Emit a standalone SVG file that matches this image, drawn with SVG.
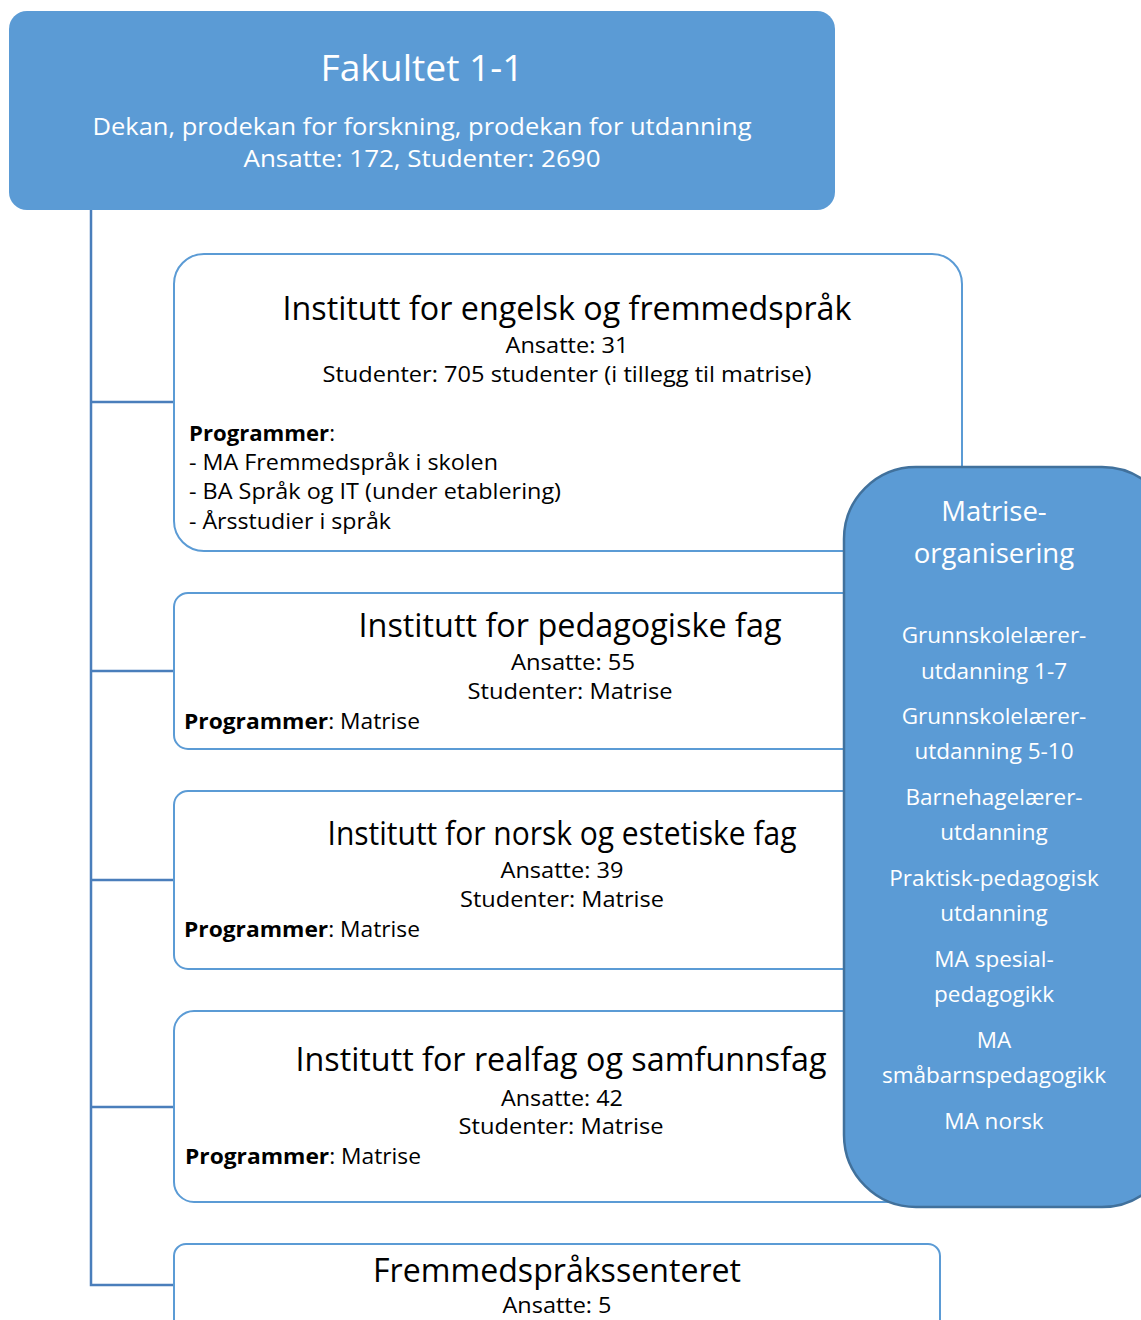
<svg xmlns="http://www.w3.org/2000/svg" width="1141" height="1320" viewBox="0 0 1141 1320">
<style>
.bluebox{fill:#5B9BD5;}
.wbox{fill:#FFFFFF;stroke:#5B9BD5;stroke-width:2;}
.conn{stroke:#4A7EBB;stroke-width:2.5;fill:none;}
.t{font-family:"Open Sans","Liberation Sans",sans-serif;fill:#000;}
.w{font-family:"Open Sans","Liberation Sans",sans-serif;fill:#FFFFFF;text-anchor:middle;}
.c{text-anchor:middle;}
.h{font-size:32px;}
.s{font-size:21px;}
.b{font-weight:bold;}
</style>
<rect width="1141" height="1320" fill="#FFFFFF"/>
<g id="connectors">
<path class="conn" d="M91,210 V1285 H174"/>
<path class="conn" d="M91,402 H174"/>
<path class="conn" d="M91,671 H174"/>
<path class="conn" d="M91,880 H174"/>
<path class="conn" d="M91,1107 H174"/>
</g>
<g id="fakultet">
<rect class="bluebox" x="9" y="11" width="826" height="199" rx="18"/>
<text class="w" x="422" y="81" font-size="37" textLength="203" lengthAdjust="spacingAndGlyphs">Fakultet 1-1</text>
<text class="w" x="422" y="135" font-size="24" textLength="659" lengthAdjust="spacingAndGlyphs">Dekan, prodekan for forskning, prodekan for utdanning</text>
<text class="w" x="422" y="167" font-size="24" textLength="357" lengthAdjust="spacingAndGlyphs">Ansatte: 172, Studenter: 2690</text>
</g>
<g id="engelsk">
<rect class="wbox" x="174" y="254" width="788" height="297" rx="30"/>
<text class="t c h" x="567" y="320" textLength="569" lengthAdjust="spacingAndGlyphs">Institutt for engelsk og fremmedspråk</text>
<text class="t c s" x="567" y="353" textLength="123" lengthAdjust="spacingAndGlyphs">Ansatte: 31</text>
<text class="t c s" x="567" y="382" textLength="489" lengthAdjust="spacingAndGlyphs">Studenter: 705 studenter (i tillegg til matrise)</text>
<text class="t s" x="189" y="441" textLength="146" lengthAdjust="spacingAndGlyphs"><tspan class="b">Programmer</tspan>:</text>
<text class="t s" x="189" y="470" textLength="309" lengthAdjust="spacingAndGlyphs">- MA Fremmedspråk i skolen</text>
<text class="t s" x="189" y="499" textLength="372" lengthAdjust="spacingAndGlyphs">- BA Språk og IT (under etablering)</text>
<text class="t s" x="189" y="529" textLength="202" lengthAdjust="spacingAndGlyphs">- Årsstudier i språk</text>
</g>
<g id="pedagogiske">
<rect class="wbox" x="174" y="593" width="788" height="156" rx="14"/>
<text class="t c h" x="570" y="637" textLength="423" lengthAdjust="spacingAndGlyphs">Institutt for pedagogiske fag</text>
<text class="t c s" x="573" y="670" textLength="124" lengthAdjust="spacingAndGlyphs">Ansatte: 55</text>
<text class="t c s" x="570" y="699" textLength="205" lengthAdjust="spacingAndGlyphs">Studenter: Matrise</text>
<text class="t s" x="184" y="729" textLength="236" lengthAdjust="spacingAndGlyphs"><tspan class="b">Programmer</tspan>: Matrise</text>
</g>
<g id="norsk">
<rect class="wbox" x="174" y="791" width="788" height="178" rx="14"/>
<text class="t c h" x="562" y="845" textLength="469" lengthAdjust="spacingAndGlyphs">Institutt for norsk og estetiske fag</text>
<text class="t c s" x="562" y="878" textLength="123" lengthAdjust="spacingAndGlyphs">Ansatte: 39</text>
<text class="t c s" x="562" y="907" textLength="204" lengthAdjust="spacingAndGlyphs">Studenter: Matrise</text>
<text class="t s" x="184" y="937" textLength="236" lengthAdjust="spacingAndGlyphs"><tspan class="b">Programmer</tspan>: Matrise</text>
</g>
<g id="realfag">
<rect class="wbox" x="174" y="1011" width="788" height="191" rx="20"/>
<text class="t c h" x="561" y="1071" textLength="531" lengthAdjust="spacingAndGlyphs">Institutt for realfag og samfunnsfag</text>
<text class="t c s" x="562" y="1106" textLength="122" lengthAdjust="spacingAndGlyphs">Ansatte: 42</text>
<text class="t c s" x="561" y="1134" textLength="205" lengthAdjust="spacingAndGlyphs">Studenter: Matrise</text>
<text class="t s" x="185" y="1164" textLength="236" lengthAdjust="spacingAndGlyphs"><tspan class="b">Programmer</tspan>: Matrise</text>
</g>
<g id="fremmedsprakssenteret">
<rect class="wbox" x="174" y="1244" width="766" height="200" rx="12"/>
<text class="t c h" x="557" y="1282" textLength="368" lengthAdjust="spacingAndGlyphs">Fremmedspråkssenteret</text>
<text class="t c s" x="557" y="1313" textLength="109" lengthAdjust="spacingAndGlyphs">Ansatte: 5</text>
</g>
<g id="matrise">
<rect x="844" y="467" width="330" height="740" rx="72" fill="#5B9BD5" stroke="#41719C" stroke-width="2.5"/>
<text class="w" x="994" y="521" font-size="27.5">Matrise-</text>
<text class="w" x="994" y="563" font-size="27.5">organisering</text>
<g font-size="22.5">
<text class="w" x="994" y="643">Grunnskolelærer-</text>
<text class="w" x="994" y="679">utdanning 1-7</text>
<text class="w" x="994" y="724">Grunnskolelærer-</text>
<text class="w" x="994" y="759">utdanning 5-10</text>
<text class="w" x="994" y="805">Barnehagelærer-</text>
<text class="w" x="994" y="840">utdanning</text>
<text class="w" x="994" y="886">Praktisk-pedagogisk</text>
<text class="w" x="994" y="921">utdanning</text>
<text class="w" x="994" y="967">MA spesial-</text>
<text class="w" x="994" y="1002">pedagogikk</text>
<text class="w" x="994" y="1048">MA</text>
<text class="w" x="994" y="1083">småbarnspedagogikk</text>
<text class="w" x="994" y="1129">MA norsk</text>
</g>
</g>
</svg>
